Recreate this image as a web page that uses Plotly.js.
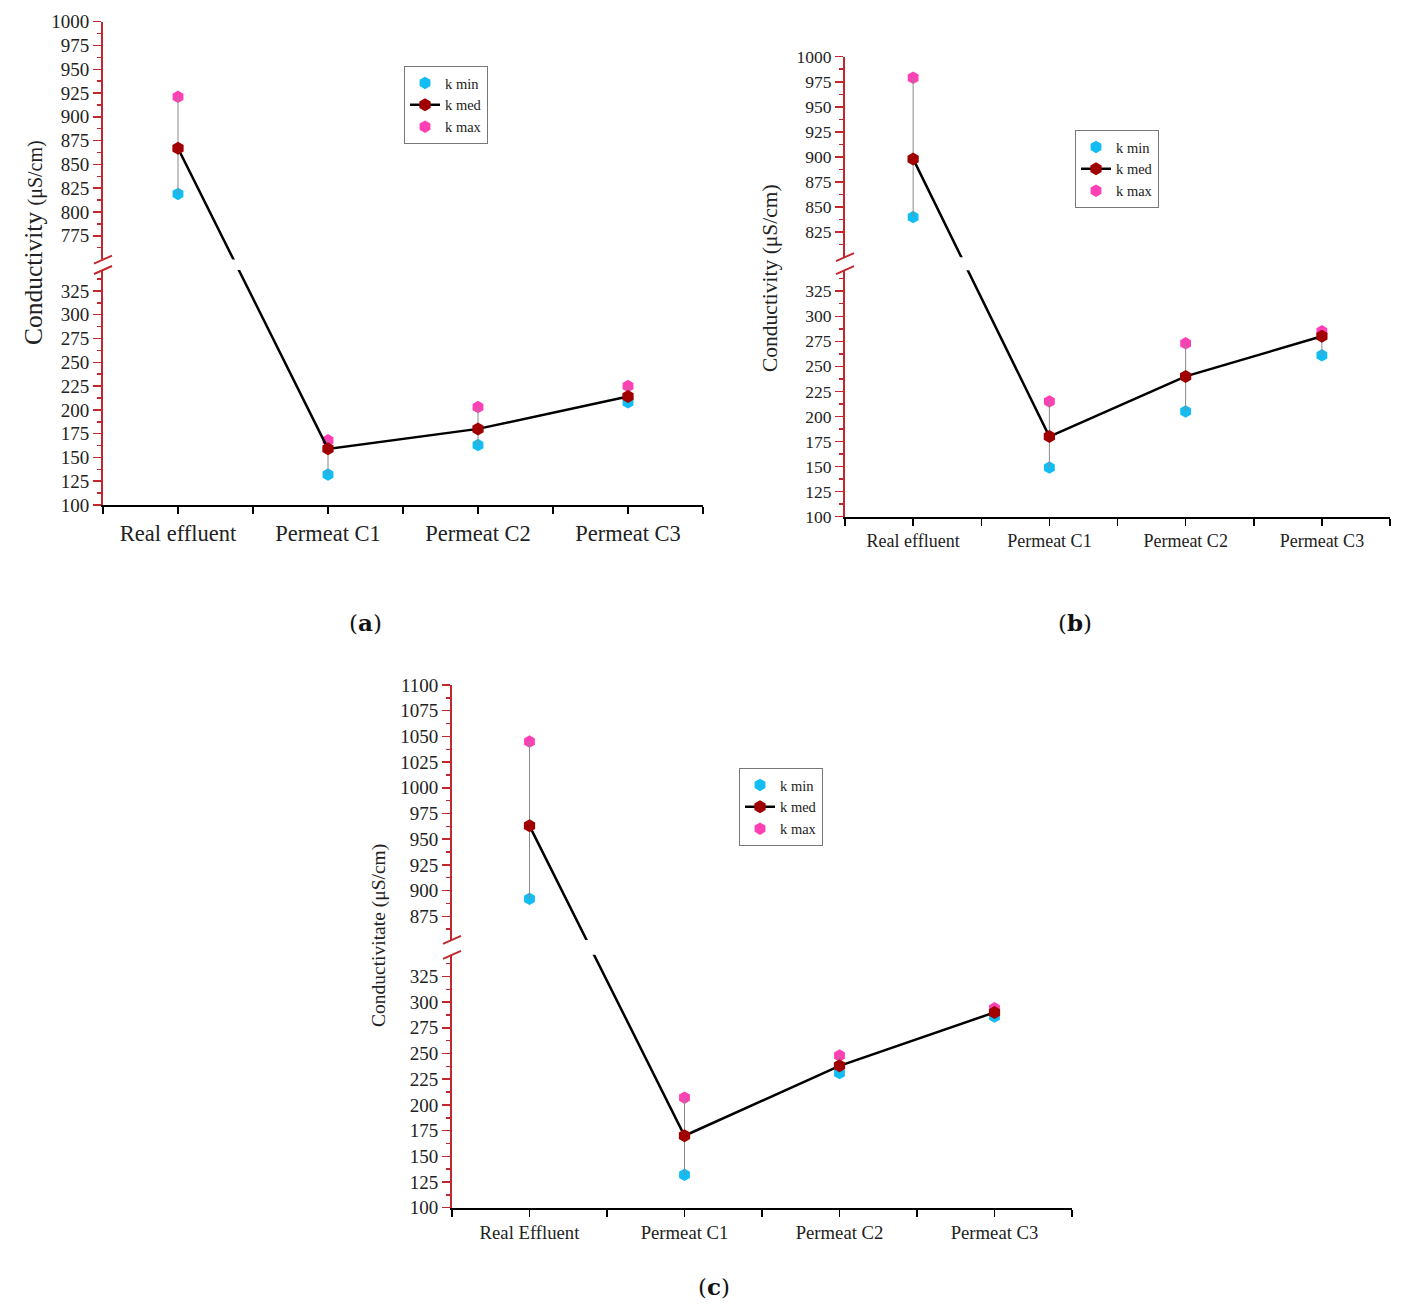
<!DOCTYPE html>
<html>
<head>
<meta charset="utf-8">
<script src="https://cdn.plot.ly/plotly-3.0.1.min.js"></script>
<style>
  body { margin: 0; background: #fff; }
  #chart { width: 1417px; height: 1309px; }
</style>
</head>
<body>
<div id="chart"></div>
<script>
// categories
var categoriesAB = ['Real effluent', 'Permeat C1', 'Permeat C2', 'Permeat C3'];
var categoriesC = ['Real Effluent', 'Permeat C1', 'Permeat C2', 'Permeat C3'];

// (a) conductivity, µS/cm
var kMinA = [819, 132, 163, 208];
var kMedA = [867, 159, 180, 214];
var kMaxA = [921, 168, 203, 225];

// (b)
var kMinB = [840, 149, 205, 261];
var kMedB = [898, 180, 240, 280];
var kMaxB = [979, 215, 273, 285];

// (c)
var kMinC = [892, 132, 231, 286];
var kMedC = [963, 170, 238, 290];
var kMaxC = [1045, 207, 248, 294];

// tick labels (lower / upper part of the broken axis)
var lowTicks = [100, 125, 150, 175, 200, 225, 250, 275, 300, 325];
var highTicksA = [775, 800, 825, 850, 875, 900, 925, 950, 975, 1000];
var highTicksB = [825, 850, 875, 900, 925, 950, 975, 1000];
var highTicksC = [875, 900, 925, 950, 975, 1000, 1025, 1050, 1075, 1100];

var W = 1417, H = 1309;
var FONT = 'Liberation Serif, Times New Roman, serif';
var RED = '#C1272D';
var C_MIN = '#12BDF4', C_MED = '#A00000', C_MAX = '#FF40B4';

function px2x(p) { return p / W; }
function px2y(p) { return 1 - p / H; }

var panels = [
  { n: '', leg: 'legend', cats: categoriesAB, kmin: kMinA, kmed: kMedA, kmax: kMaxA, high: highTicksA,
    xpx: [103, 703], ypx: [21.7, 505], lowTop: 347, highBottom: 750, highTop: 1000, gap: 11,
    tickSize: 19, catSize: 22.5, legendPx: [404, 66], titlePx: [33, 243],
    title: 'Conductivity <span style="font-size:20px">(μS/cm)</span>', titleSize: 25.5,
    label: 'a', labelPx: [365, 622] },
  { n: '2', leg: 'legend2', cats: categoriesAB, kmin: kMinB, kmed: kMedB, kmax: kMaxB, high: highTicksB,
    xpx: [845, 1390], ypx: [56.7, 516.7], lowTop: 346, highBottom: 800, highTop: 1000, gap: 13,
    tickSize: 17.5, catSize: 18, legendPx: [1075, 130], titlePx: [770, 278],
    title: 'Conductivity (μS/cm)', titleSize: 21.5,
    label: 'b', labelPx: [1075, 622] },
  { n: '3', leg: 'legend3', cats: categoriesC, kmin: kMinC, kmed: kMedC, kmax: kMaxC, high: highTicksC,
    xpx: [452, 1072], ypx: [685, 1207.7], lowTop: 346, highBottom: 852, highTop: 1100, gap: 14.5,
    tickSize: 19, catSize: 18.7, legendPx: [739, 768], titlePx: [379, 936],
    title: 'Conductivitate (μS/cm)', titleSize: 19.5,
    label: 'c', labelPx: [714, 1286] }
];

var data = [];
var layout = {
  width: W, height: H,
  margin: { l: 0, r: 0, t: 0, b: 0 },
  paper_bgcolor: '#fff',
  plot_bgcolor: '#fff',
  font: { family: FONT, color: '#222' },
  shapes: [],
  annotations: []
};

panels.forEach(function(p) {
  var offset = p.highBottom - (p.lowTop + p.gap);
  var brk = function(v) { return v > p.lowTop ? v - offset : v; };
  var xs = p.cats.map(function(c, i) { return i; });
  var xa = 'x' + p.n, ya = 'y' + p.n;

  // min / max / med
  data.push({
    x: xs, y: p.kmin.map(brk), xaxis: xa, yaxis: ya, legend: p.leg, legendrank: 1,
    name: 'k min', type: 'scatter', mode: 'markers',
    marker: { symbol: 'hexagon', size: 12.5, color: C_MIN }
  });
  data.push({
    x: xs, y: p.kmax.map(brk), xaxis: xa, yaxis: ya, legend: p.leg, legendrank: 3,
    name: 'k max', type: 'scatter', mode: 'markers',
    marker: { symbol: 'hexagon', size: 12.5, color: C_MAX }
  });
  data.push({
    x: xs, y: p.kmed.map(brk), xaxis: xa, yaxis: ya, legend: p.leg, legendrank: 2,
    name: 'k med', type: 'scatter', mode: 'lines+markers',
    line: { color: '#000', width: 2.5 },
    marker: { symbol: 'hexagon', size: 13, color: C_MED },
    error_y: {
      type: 'data', symmetric: false, width: 0, thickness: 1, color: '#8a8a8a',
      array: p.kmax.map(function(v, i) { return brk(v) - brk(p.kmed[i]); }),
      arrayminus: p.kmed.map(function(v, i) { return brk(v) - brk(p.kmin[i]); })
    }
  });

  // ticks of the broken axis
  var tickVals = [], tickText = [], minorVals = [];
  lowTicks.concat(p.high).forEach(function(t) {
    tickVals.push(brk(t));
    tickText.push(String(t));
  });
  lowTicks.forEach(function(t) {
    if (t - 12.5 >= 100) minorVals.push(t - 12.5);
  });
  minorVals.push(lowTicks[lowTicks.length - 1] + 12.5);
  p.high.forEach(function(t) {
    if (t - 12.5 >= p.highBottom) minorVals.push(brk(t - 12.5));
  });

  layout['xaxis' + p.n] = {
    domain: [px2x(p.xpx[0]), px2x(p.xpx[1])],
    anchor: ya,
    range: [-0.5, 3.5],
    tickmode: 'array', tickvals: xs, ticktext: p.cats,
    ticks: 'outside', ticklen: 7, tickwidth: 1.5, tickcolor: '#000',
    ticklabelstandoff: 0,
    minor: { tickmode: 'array', tickvals: [-0.5, 0.5, 1.5, 2.5, 3.5], ticks: 'outside', ticklen: 7, tickwidth: 1.5, tickcolor: '#000' },
    showline: true, linecolor: '#000', linewidth: 2,
    showgrid: false, zeroline: false, fixedrange: true,
    tickfont: { family: FONT, size: p.catSize, color: '#222' }
  };
  layout['yaxis' + p.n] = {
    domain: [px2y(p.ypx[1]), px2y(p.ypx[0])],
    anchor: xa,
    range: [100, brk(p.highTop)],
    tickmode: 'array', tickvals: tickVals, ticktext: tickText,
    ticks: 'outside', ticklen: 8, tickwidth: 1.5, tickcolor: RED,
    ticklabelstandoff: 0,
    minor: { tickmode: 'array', tickvals: minorVals, ticks: 'outside', ticklen: 4, tickwidth: 1.5, tickcolor: RED },
    showline: true, linecolor: RED, linewidth: 2,
    showgrid: false, zeroline: false, fixedrange: true,
    tickfont: { family: FONT, size: p.tickSize, color: '#222' }
  };

  layout[p.leg] = {
    x: px2x(p.legendPx[0]), y: px2y(p.legendPx[1]),
    xanchor: 'left', yanchor: 'top',
    bgcolor: '#fff', bordercolor: '#777', borderwidth: 1,
    font: { family: FONT, size: 14.5, color: '#222' },
    traceorder: 'normal'
  };

  // white band hiding the axis break
  layout.shapes.push({
    type: 'rect', layer: 'above', xref: xa + ' domain', yref: ya,
    x0: -0.012, x1: 1, y0: p.lowTop, y1: p.lowTop + p.gap,
    fillcolor: '#fff', line: { width: 0 }
  });
  // break marks
  [p.lowTop, p.lowTop + p.gap].forEach(function(yv) {
    layout.shapes.push({
      type: 'line', layer: 'above', xref: 'paper', yref: ya,
      xsizemode: 'pixel', xanchor: px2x(p.xpx[0]), x0: -9, x1: 9,
      ysizemode: 'pixel', yanchor: yv, y0: -4, y1: 4,
      line: { color: RED, width: 2 }
    });
  });

  layout.annotations.push({
    text: p.title, textangle: -90, showarrow: false,
    xref: 'paper', yref: 'paper', x: px2x(p.titlePx[0]), y: px2y(p.titlePx[1]),
    xanchor: 'center', yanchor: 'middle',
    font: { family: FONT, size: p.titleSize, color: '#222' }
  });
  layout.annotations.push({
    text: '(<b>' + p.label + '</b>)', showarrow: false,
    xref: 'paper', yref: 'paper', x: px2x(p.labelPx[0]), y: px2y(p.labelPx[1]),
    xanchor: 'center', yanchor: 'middle',
    font: { family: 'DejaVu Serif, serif', size: 23, color: '#111' }
  });
});

Plotly.newPlot('chart', data, layout, { displayModeBar: false, staticPlot: true });
</script>
</body>
</html>
